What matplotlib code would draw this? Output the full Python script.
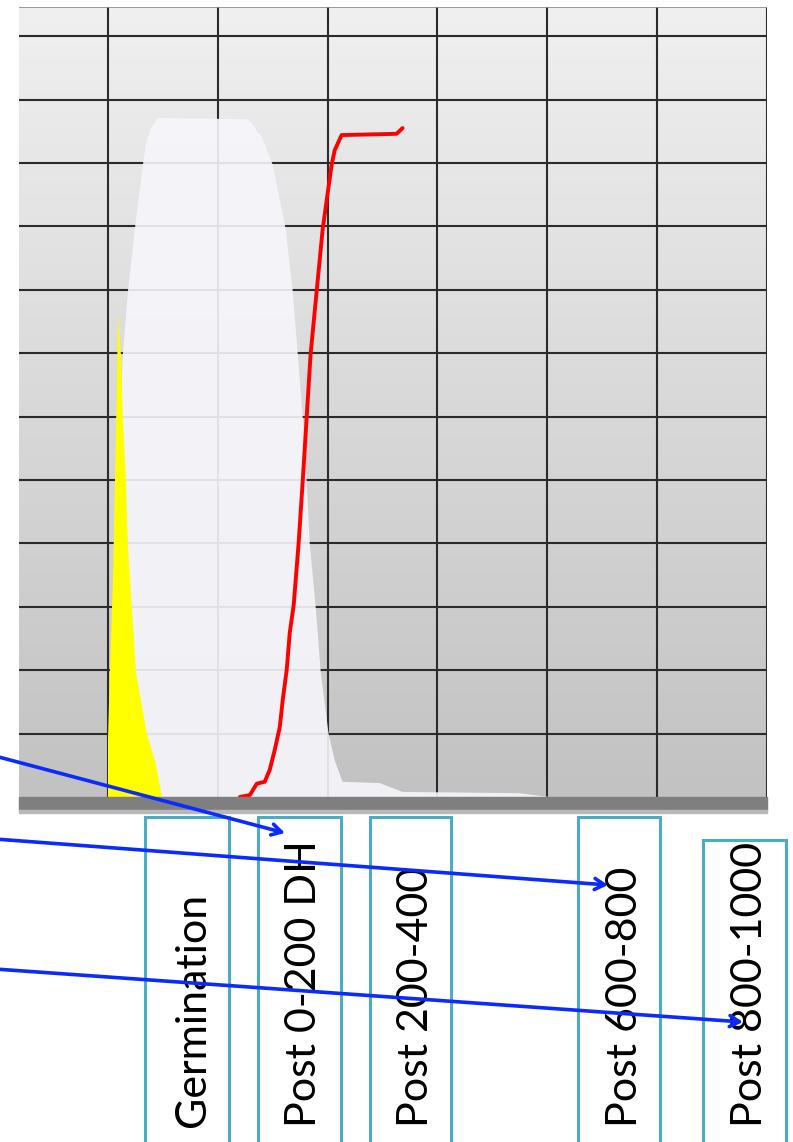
import numpy as np
import matplotlib
matplotlib.use("Agg")
import matplotlib.pyplot as plt
from matplotlib.colors import LinearSegmentedColormap
from matplotlib.patches import Rectangle, FancyArrowPatch

# --- data (x in grid columns, y in grid rows) ---
yellow_x = [0.0, 0.0, 0.018, 0.045, 0.064, 0.082, 0.091, 0.109, 0.118, 0.136,
            0.164, 0.182, 0.218, 0.255, 0.355, 0.427, 0.464, 0.491]
yellow_y = [0.0, 0.90, 2.0, 3.42, 5.0, 6.58, 7.63, 7.21, 6.97, 5.96,
            4.97, 3.96, 2.97, 1.97, 0.99, 0.58, 0.27, 0.0]

white_x = [0.0, 0.018, 0.064, 0.10, 0.136, 0.182, 0.245, 0.318, 0.345, 0.382, 0.455,
           1.264, 1.318, 1.355, 1.40, 1.50, 1.618, 1.682, 1.727, 1.773, 1.809,
           1.836, 1.891, 1.936, 2.009, 2.064, 2.136, 2.473, 2.682, 3.745, 4.018]
white_y = [0.0, 1.21, 3.10, 5.47, 6.99, 7.98, 8.96, 9.97, 10.28, 10.52, 10.71,
           10.69, 10.62, 10.50, 10.42, 9.97, 8.96, 7.98, 7.00, 5.99, 4.98,
           4.01, 3.00, 1.99, 0.99, 0.58, 0.24, 0.22, 0.08, 0.06, 0.0]

red_x = [1.2, 1.291, 1.355, 1.427, 1.473, 1.518, 1.564, 1.591, 1.627, 1.655, 1.691,
         1.736, 1.773, 1.809, 1.845, 1.90, 1.955, 2.036, 2.064, 2.127, 2.627, 2.682]
red_y = [0.0, 0.03, 0.21, 0.24, 0.43, 0.74, 1.10, 1.53, 2.0, 2.59, 3.03,
         4.01, 4.98, 5.99, 6.99, 7.98, 8.96, 9.97, 10.2, 10.44, 10.46, 10.55]

stage_labels = ["Germination", "Post 0-200 DH", "Post 200-400", "Post 600-800", "Post 800-1000"]

# --- layout (pixels, measured from top-left) ---
W, H = 793, 1142
box_left = [145, 258, 370, 578, 703]
box_right = [229, 341, 451, 660, 786]
box_top = [817, 817, 817, 817, 840]
text_base = [205, 316, 428, 637, 762]
text_start = 1127
arrows = [((-5, 756), (285, 833)), ((-5, 839), (608, 885)), ((-5, 969), (743, 1022))]

XMIN, XMAX = -0.81, 6.0
YMAX = 12.46


def fpt(px, py):
    return (px / W, 1 - py / H)


fig = plt.figure(figsize=(W / 100, H / 100), dpi=100)
ax = fig.add_axes([19 / W, 1 - 797 / H, 748 / W, 790 / H])
ax.set_xlim(XMIN, XMAX)
ax.set_ylim(0, YMAX)
ax.axis("off")

# grey gradient background
cmap = LinearSegmentedColormap.from_list("bg", ["#c2c2c2", "#f0f0f0"])
grad = np.linspace(0, 1, 256)[:, None]
ax.imshow(grad, extent=[XMIN, XMAX, 0, YMAX], origin="lower", aspect="auto",
          cmap=cmap, zorder=0)

# grid
for gx in range(0, 7):
    ax.axvline(gx, color="#2b2b2b", lw=1.5, zorder=1)
for gy in range(1, 13):
    ax.axhline(gy, color="#2b2b2b", lw=1.5, zorder=1)
ax.axhline(YMAX, color="#8a8a8a", lw=1.2, zorder=1)

ax.fill(white_x, white_y, color="#f6f6fb", alpha=0.9, lw=0, zorder=2)
ax.fill(yellow_x, yellow_y, color="#ffff00", lw=0, zorder=3)
ax.plot(red_x, red_y, color="#ff0000", lw=2.8, zorder=4,
        solid_capstyle="round", solid_joinstyle="round")

# dark base band
fig.patches.append(Rectangle(fpt(19, 810), 748 / W, 13 / H,
                             transform=fig.transFigure, color="#7f7f7f", zorder=5))
fig.patches.append(Rectangle(fpt(19, 813), 748 / W, 3 / H,
                             transform=fig.transFigure, color="#b8b8b8", zorder=5))

# stage boxes and labels
for i, lab in enumerate(stage_labels):
    x0, x1, top = box_left[i], box_right[i], box_top[i]
    fig.patches.append(Rectangle((x0 / W, -0.02), (x1 - x0) / W, 1 - top / H + 0.02,
                                 transform=fig.transFigure, fill=False,
                                 edgecolor="#4bacc6", lw=2.2, zorder=6))
    fig.text(text_base[i] / W, 1 - text_start / H, lab, rotation=90,
             rotation_mode="anchor", ha="left", va="baseline",
             fontsize=31, family="Lato", color="black", zorder=7)

# blue arrows, on top of everything
for start, end in arrows:
    arr = FancyArrowPatch(fpt(*start), fpt(*end), transform=fig.transFigure,
                          arrowstyle="->,head_length=7,head_width=4",
                          color="#0a2aff", lw=2.6, zorder=10, shrinkA=0, shrinkB=0)
    fig.add_artist(arr)

fig.savefig("out.png", dpi=100)
